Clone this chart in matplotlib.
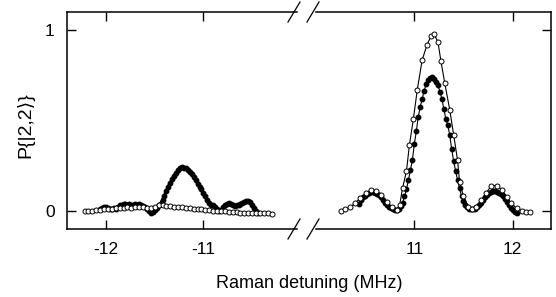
import matplotlib
matplotlib.use("Agg")
import matplotlib.pyplot as plt
from matplotlib.lines import Line2D

plt.rcParams['font.family'] = ['Liberation Sans', 'DejaVu Sans']
plt.rcParams['axes.unicode_minus'] = False

# left window, filled points (thick trace)
left_fill_x = [-12.06, -12.04, -12.02, -12.00, -11.98, -11.96, -11.94, -11.92, -11.90, -11.88,
               -11.86, -11.84, -11.82, -11.80, -11.78, -11.76, -11.74, -11.72, -11.70, -11.68,
               -11.66, -11.64, -11.62, -11.60, -11.58, -11.56, -11.54, -11.52, -11.50, -11.48,
               -11.46, -11.44, -11.42, -11.40, -11.38, -11.36, -11.34, -11.32, -11.30, -11.28,
               -11.26, -11.24, -11.22, -11.20, -11.18, -11.16, -11.14, -11.12, -11.10, -11.08,
               -11.06, -11.04, -11.02, -11.00, -10.98, -10.96, -10.94, -10.92, -10.90, -10.88,
               -10.86, -10.84, -10.82, -10.80, -10.78, -10.76, -10.74, -10.72, -10.70, -10.68,
               -10.66, -10.64, -10.62, -10.60, -10.58, -10.56, -10.54, -10.52, -10.50, -10.48,
               -10.46, -10.44]
left_fill_y = [0.01, 0.015, 0.02, 0.02, 0.015, 0.01, 0.01, 0.015, 0.01, 0.02,
               0.03, 0.035, 0.04, 0.04, 0.035, 0.04, 0.035, 0.03, 0.04, 0.035,
               0.04, 0.035, 0.025, 0.02, 0.01, 0.0, -0.01, -0.005, 0.005, 0.015,
               0.03, 0.04, 0.06, 0.085, 0.11, 0.135, 0.155, 0.175, 0.195, 0.21,
               0.225, 0.24, 0.245, 0.24, 0.235, 0.225, 0.215, 0.205, 0.19, 0.17,
               0.15, 0.135, 0.12, 0.10, 0.08, 0.06, 0.045, 0.035, 0.03, 0.02,
               0.01, 0.0, 0.005, 0.02, 0.03, 0.04, 0.045, 0.04, 0.03, 0.025,
               0.03, 0.035, 0.04, 0.045, 0.05, 0.055, 0.055, 0.05, 0.035, 0.015,
               0.0, -0.01]

# left window, open points
left_open_x = [-12.22, -12.18, -12.14, -12.10, -12.06, -12.02, -11.98, -11.94, -11.90, -11.86,
               -11.82, -11.78, -11.74, -11.70, -11.66, -11.62, -11.58, -11.54, -11.50, -11.46,
               -11.42, -11.38, -11.34, -11.30, -11.26, -11.22, -11.18, -11.14, -11.10, -11.06,
               -11.02, -10.98, -10.94, -10.90, -10.86, -10.82, -10.78, -10.74, -10.70, -10.66,
               -10.62, -10.58, -10.54, -10.50, -10.46, -10.42, -10.38, -10.34, -10.30]
left_open_y = [0.0, 0.0, 0.0, 0.005, 0.005, 0.01, 0.01, 0.01, 0.015, 0.015,
               0.015, 0.02, 0.015, 0.02, 0.02, 0.02, 0.015, 0.015, 0.02, 0.03,
               0.03, 0.025, 0.025, 0.02, 0.02, 0.02, 0.015, 0.015, 0.01, 0.01,
               0.01, 0.005, 0.005, 0.0, 0.0, 0.0, 0.0, -0.005, -0.005, -0.005,
               -0.01, -0.01, -0.01, -0.01, -0.01, -0.01, -0.01, -0.01, -0.015]

# right window, filled points
right_fill_x = [10.44, 10.46, 10.48, 10.50, 10.52, 10.54, 10.56, 10.58, 10.60, 10.62,
                10.64, 10.66, 10.68, 10.70, 10.72, 10.74, 10.76, 10.78, 10.80, 10.82,
                10.84, 10.86, 10.88, 10.90, 10.92, 10.94, 10.96, 10.98, 11.00, 11.02,
                11.04, 11.06, 11.08, 11.10, 11.12, 11.14, 11.16, 11.18, 11.20, 11.22,
                11.24, 11.26, 11.28, 11.30, 11.32, 11.34, 11.36, 11.38, 11.40, 11.42,
                11.44, 11.46, 11.48, 11.50, 11.52, 11.54, 11.56, 11.58, 11.60, 11.62,
                11.64, 11.66, 11.68, 11.70, 11.72, 11.74, 11.76, 11.78, 11.80, 11.82,
                11.84, 11.86, 11.88, 11.90, 11.92, 11.94, 11.96, 11.98, 12.00, 12.02,
                12.04]
right_fill_y = [0.04, 0.06, 0.075, 0.085, 0.095, 0.10, 0.103, 0.102, 0.10, 0.095,
                0.088, 0.075, 0.06, 0.045, 0.035, 0.024, 0.015, 0.008, 0.005, 0.005,
                0.01, 0.025, 0.045, 0.08, 0.12, 0.17, 0.225, 0.28, 0.37, 0.44,
                0.52, 0.575, 0.62, 0.665, 0.70, 0.724, 0.735, 0.74, 0.732, 0.715,
                0.695, 0.66, 0.62, 0.565, 0.51, 0.475, 0.42, 0.34, 0.275, 0.22,
                0.17, 0.125, 0.08, 0.055, 0.035, 0.022, 0.012, 0.01, 0.01, 0.013,
                0.02, 0.032, 0.045, 0.06, 0.075, 0.088, 0.098, 0.105, 0.108, 0.108,
                0.106, 0.10, 0.092, 0.08, 0.066, 0.05, 0.035, 0.018, 0.005, -0.005,
                -0.01]

# right window, open points
right_open_x = [10.25, 10.30, 10.35, 10.40, 10.45, 10.51, 10.56, 10.61, 10.66, 10.72,
                10.77, 10.82, 10.85, 10.88, 10.92, 10.95, 10.99, 11.03, 11.08, 11.13,
                11.17, 11.20, 11.24, 11.27, 11.31, 11.36, 11.40, 11.44, 11.46, 11.50,
                11.55, 11.59, 11.63, 11.68, 11.73, 11.78, 11.84, 11.89, 11.94, 11.98,
                12.04, 12.09, 12.14, 12.18]
right_open_y = [0.0, 0.01, 0.02, 0.046, 0.07, 0.10, 0.116, 0.11, 0.088, 0.05,
                0.02, 0.005, 0.03, 0.125, 0.22, 0.365, 0.507, 0.67, 0.835, 0.92,
                0.967, 0.978, 0.935, 0.83, 0.705, 0.56, 0.42, 0.28, 0.16, 0.08,
                0.024, 0.01, 0.024, 0.06, 0.098, 0.138, 0.14, 0.116, 0.079, 0.046,
                0.015, 0.0, -0.005, -0.005]

W, H = 556, 297
fig = plt.figure(figsize=(W / 100, H / 100), dpi=100)

# frame in pixels: left 67..297, right 316..551, y 12..229 (from top)
top, bot = 12, 229
ax1 = fig.add_axes([67 / W, 1 - bot / H, (297 - 67) / W, (bot - top) / H])
ax2 = fig.add_axes([316 / W, 1 - bot / H, (551 - 316) / W, (bot - top) / H])

open_style = dict(marker='o', ms=3.6, mfc='white', mec='black', mew=0.7, color='black')

ax1.plot(left_fill_x, left_fill_y, '-o', color='black', lw=2.2, ms=3.2)
ax1.plot(left_open_x, left_open_y, lw=0.5, **open_style)

ax2.plot(right_fill_x, right_fill_y, '-o', color='black', lw=0.8, ms=3.2)
ax2.plot(right_open_x, right_open_y, lw=0.8, **open_style)

ax1.set_xlim(-12.40, -10.04)
ax2.set_xlim(10.0, 12.39)
ax1.set_xticks([-12, -11], ['-12', '-11'])
ax2.set_xticks([11, 12], ['11', '12'])

for ax in (ax1, ax2):
    ax.set_ylim(-0.1, 1.1)
    ax.set_yticks([0, 1], ['0', '1'])
    for s in ax.spines.values():
        s.set_linewidth(1.1)
    ax.tick_params(direction='in', length=6.5, width=1.0, top=True, bottom=True,
                   labelsize=12.5, pad=9)

ax1.spines['right'].set_visible(False)
ax1.tick_params(axis='y', left=True, right=False, pad=9)

ax2.spines['left'].set_visible(False)
ax2.tick_params(axis='y', left=False, right=True, labelleft=False)

# break marks on top and bottom frame
for xc in (294, 313):
    for yc in (top, bot):
        fig.add_artist(Line2D([(xc - 6) / W, (xc + 6) / W],
                              [1 - (yc + 10) / H, 1 - (yc - 10) / H],
                              transform=fig.transFigure, color='black', lw=0.9))

fig.text(309 / W, 1 - 283 / H, 'Raman detuning (MHz)', ha='center', va='center', fontsize=13)
fig.text(25 / W, 1 - 125 / H, 'P{|2,2⟩}', ha='center', va='center', rotation=90, fontsize=14)

fig.savefig('out.png', dpi=100)
